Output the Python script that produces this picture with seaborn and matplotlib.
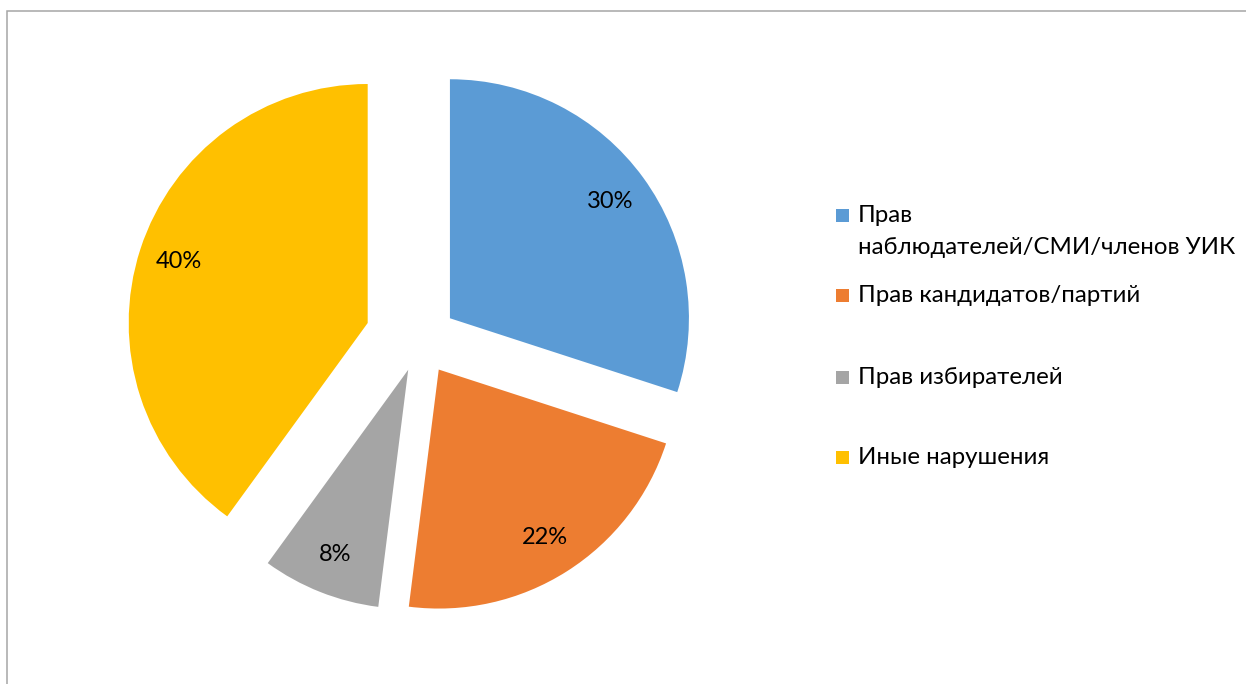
import matplotlib
matplotlib.use("Agg")
from matplotlib import pyplot as plt
from matplotlib.patches import Rectangle
import seaborn as sns

# data
categories = ["Прав\nнаблюдателей/СМИ/членов УИК", "Прав кандидатов/партий", "Прав избирателей", "Иные нарушения"]
shares = [30, 22, 8, 40]
colors = ["#5B9BD5", "#ED7D31", "#A5A5A5", "#FFC000"]

# layout (pixels)
W, H = 1246, 684
center = (420, H - 340)
radius = 239
explode_px = [37, 35, 32, 55]
legend_y = [215, 295, 377, 457]   # marker centres, screen coords

sns.set_theme(style="white")
plt.rcParams['font.family'] = ['Lato', 'DejaVu Sans']

fig = plt.figure(figsize=(W / 100, H / 100), dpi=100)
ax = fig.add_axes([0, 0, 1, 1])

ax.pie(shares, colors=colors, explode=explode_px, radius=radius, center=center,
       startangle=90, counterclock=False, autopct=lambda p: f"{p:.0f}%",
       pctdistance=0.83, wedgeprops=dict(linewidth=0),
       textprops=dict(fontsize=17, color="black"))
ax.set_xlim(0, W)
ax.set_ylim(0, H)
ax.set_aspect("equal")
ax.axis("off")

# legend, drawn by hand to keep the Excel-like spacing
for label, col, yc in zip(categories, colors, legend_y):
    ax.add_patch(Rectangle((836, H - yc - 6.5), 13, 13, color=col, lw=0))
    for i, line in enumerate(label.split("\n")):
        ax.text(858, H - (yc + 7 + 32 * i), line, fontsize=17.3, color="black", va="baseline", ha="left")

# chart area border (cropped on the right and bottom)
ax.add_patch(Rectangle((7, -20), W + 40, H - 11 + 20, fill=False, edgecolor="#a6a6a6", lw=1.1))

fig.savefig("out.png", dpi=100)
